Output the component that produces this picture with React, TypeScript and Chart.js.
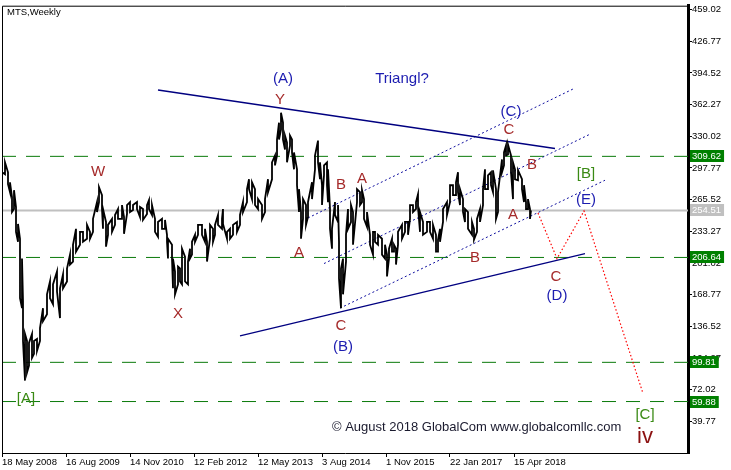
import React, { useEffect, useRef } from "react";
import { Chart, registerables } from "chart.js";

Chart.register(...registerables);

// ---- data ----
const weekIndex = [0,3,6,8,10,12,14,16,18,20,21,23,25,27,30,32,35,38,41,45,48,51,55,58,61,65,68,71,74,78,81,85,88,91,95,97,100,101,104,106,110,113,116,120,122,125,128,131,135,138,141,145,147,150,153,156,160,163,165,166,170,171,173,176,178,180,183,186,188,190,193,196,200,203,205,208,211,213,216,220,221,225,228,231,235,238,241,245,247,250,253,256,260,263,266,270,273,275,277,279,281,283,285,288,290,292,295,297,299,301,304,306,310,313,316,318,320,322,325,326,328,330,333,336,337,339,341,344,346,349,351,355,358,360,362,365,368,371,373,376,380,383,385,387,390,392,394,396,400,403,406,408,411,414,416,418,421,425,428,431,434,436,438,441,445,448,451,454,456,458,461,463,466,470,472,475,478,481,483,486,489,491,494,496,500,502,504,506,509,511,513,516,520,522,524,526,528];
const highs = [306.5,303.5,293.4,283.2,268.1,275.2,258.0,240.8,225.7,205.5,162.0,128.7,121.6,119.6,128.7,121.6,123.6,134.7,155.0,169.1,182.2,179.2,192.3,175.2,189.3,195.4,209.5,219.6,235.8,232.7,232.7,239.8,232.7,245.9,263.0,278.2,270.1,256.0,242.8,239.8,245.9,249.9,256.0,260.0,247.9,260.0,263.0,260.0,263.0,258.0,256.0,260.0,265.1,260.0,245.9,242.8,245.9,244.9,229.7,225.7,219.6,205.5,192.3,197.4,195.4,215.6,207.5,202.4,215.6,222.6,229.7,239.8,239.8,235.8,222.6,239.8,235.8,239.8,249.9,245.9,256.0,232.7,235.8,239.8,242.8,249.9,263.0,276.2,286.3,283.2,276.2,266.1,260.0,266.1,286.3,303.5,310.5,326.7,343.9,354.0,343.9,330.7,323.7,330.7,326.7,313.6,296.4,276.2,252.9,266.1,260.0,263.0,283.2,310.5,325.7,303.5,280.2,300.4,303.5,296.4,256.0,235.8,263.0,260.0,222.6,195.4,205.5,229.7,256.0,260.0,252.9,276.2,273.1,275.2,266.1,252.9,229.7,232.7,232.7,229.7,225.7,219.6,209.5,215.6,225.7,219.6,215.6,232.7,239.8,242.8,242.8,260.0,260.0,263.0,271.1,252.9,242.8,242.8,242.8,239.8,229.7,224.7,235.8,256.0,263.0,280.2,280.2,283.2,293.4,276.2,266.1,256.0,252.9,242.8,235.8,245.9,256.0,276.2,296.4,290.3,293.4,295.4,276.2,273.1,306.5,313.6,320.6,321.6,310.5,303.5,296.4,295.4,286.3,280.2,263.0,266.1,256.0];
const lows = [293.4,291.3,281.2,273.1,252.9,256.0,232.7,222.6,165.1,155.0,121.6,81.2,89.3,96.4,104.4,108.5,111.5,121.6,141.8,148.9,165.1,159.0,172.1,144.9,175.2,182.2,199.4,202.4,212.5,219.6,222.6,225.7,225.7,232.7,252.9,263.0,256.0,235.8,217.6,229.7,232.7,239.8,245.9,245.9,230.7,250.9,252.9,255.0,256.0,247.9,244.9,250.9,256.0,249.9,232.7,227.7,235.8,235.8,222.6,205.5,205.5,175.2,169.1,179.2,182.2,179.2,182.2,179.2,205.5,209.5,222.6,229.7,229.7,222.6,202.4,225.7,222.6,229.7,239.8,235.8,240.8,225.7,225.7,229.7,232.7,239.8,252.9,263.0,276.2,266.1,260.0,256.0,245.9,252.9,273.1,286.3,300.4,310.5,326.7,336.8,326.7,316.6,303.5,320.6,313.6,296.4,280.2,252.9,225.7,245.9,239.8,247.9,266.1,296.4,303.5,286.3,260.0,290.3,280.2,263.0,235.8,215.6,249.9,242.8,185.3,155.0,169.1,202.4,235.8,242.8,219.6,263.0,260.0,263.0,245.9,237.8,219.6,209.5,222.6,219.6,209.5,205.5,187.3,205.5,212.5,212.5,199.4,219.6,225.7,232.7,229.7,245.9,252.9,256.0,258.0,232.7,229.7,232.7,232.7,225.7,212.5,212.5,222.6,242.8,249.9,263.0,270.1,270.1,273.1,260.0,252.9,242.8,235.8,229.7,224.7,232.7,242.8,260.0,276.2,276.2,280.2,273.1,245.9,252.9,293.4,300.4,310.5,311.5,293.4,266.1,286.3,285.3,276.2,263.0,256.0,256.0,245.9];
const lastWeek = 529;
const lastClose = 254.51;

const xTickIndex = [0, 64, 128, 192, 256, 320, 384, 448, 512];
const xTickLabels = ["18 May 2008","16 Aug 2009","14 Nov 2010","12 Feb 2012","12 May 2013","3 Aug 2014","1 Nov 2015","22 Jan 2017","15 Apr 2018"];
const yTickValues = [459.02,426.77,394.52,362.27,330.02,297.77,265.52,233.27,201.02,168.77,136.52,104.27,72.02,39.77];
const xRange = [0, 686];
const yRange = [7.46, 463.06];

const levelValues = [309.62, 254.51, 206.64, 99.81, 59.88];
const levelKinds = ["level", "price", "level", "level", "level"];

// trend lines: [week, price] endpoints
const upperTriangleX = [156, 553];
const upperTriangleY = [377.2, 317.6];
const lowerTriangleX = [238, 583];
const lowerTriangleY = [126.7, 210.5];
const channel1X = [306, 571];
const channel1Y = [246.9, 378.2];
const channel2X = [322, 587];
const channel2Y = [200.4, 331.7];
const channel3X = [338, 603];
const channel3Y = [155.0, 285.3];
const forecastX = [536, 555, 582, 641];
const forecastY = [251.9, 205.5, 253.9, 68.1];

const labelTexts = ["W","X","Y","(A)","Triangl?","A","B","A","C","(B)","B","(C)","C","B","A","[B]","(E)","C","(D)","[A]","[C]","iv"];
const labelX = [96,176,278,281,400,297,339,360,339,341,473,509,507,530,511,584,584,554,555,24,643,643];
const labelY = [293.4,148.9,367.1,388.3,388.3,211.5,280.2,286.3,136.8,115.6,206.5,355.0,336.8,301.4,249.9,291.3,265.1,187.3,167.1,63.0,45.9,23.6];
const labelGroup = ["minor","minor","minor","inter","inter","minor","minor","minor","minor","inter","minor","inter","minor","minor","minor","primary","inter","minor","inter","primary","primary","cycle"];
const copyrightText = "© August 2018 GlobalCom www.globalcomllc.com";
const copyrightAt = [330, 33.7];
const titleText = "MTS,Weekly";

// ---- styles ----
const FONT = "'Liberation Sans', Arial, sans-serif";
const TICK_SIZE = 9.5;
const groupStyle: Record<string, { color: string; size: number }> = {
  minor: { color: "#a52a2a", size: 15 },
  inter: { color: "#1c1cb0", size: 15 },
  primary: { color: "#3a8a14", size: 15 },
  cycle: { color: "#8b1010", size: 22 },
};

function pts(xs: number[], ys: number[]) {
  return xs.map((x, i) => ({ x, y: ys[i] }));
}

function buildPrice() {
  const out: { x: number; y: number }[] = [];
  weekIndex.forEach((w, i) => {
    if (i % 2 === 0) {
      out.push({ x: w, y: highs[i] }, { x: w, y: lows[i] });
    } else {
      out.push({ x: w, y: lows[i] }, { x: w, y: highs[i] });
    }
  });
  out.push({ x: lastWeek, y: lastClose });
  return out;
}

const overlay = {
  id: "overlay",
  beforeDraw(chart: any) {
    const { ctx } = chart;
    ctx.save();
    ctx.fillStyle = "#fff";
    ctx.fillRect(0, 0, chart.width, chart.height);
    ctx.restore();
  },
  afterDatasetsDraw(chart: any) {
    const { ctx, scales } = chart;
    const xs = scales.x, ys = scales.y;
    ctx.save();
    ctx.textAlign = "center";
    ctx.textBaseline = "middle";
    labelTexts.forEach((t, i) => {
      const st = groupStyle[labelGroup[i]];
      ctx.font = `${st.size}px ${FONT}`;
      ctx.fillStyle = st.color;
      ctx.fillText(t, xs.getPixelForValue(labelX[i]), ys.getPixelForValue(labelY[i]));
    });
    ctx.font = `13px ${FONT}`;
    ctx.fillStyle = "#1a1a2e";
    ctx.textAlign = "left";
    ctx.fillText(copyrightText, xs.getPixelForValue(copyrightAt[0]), ys.getPixelForValue(copyrightAt[1]));
    ctx.restore();
  },
  afterDraw(chart: any) {
    const { ctx, chartArea, scales } = chart;
    const ys = scales.y;
    ctx.save();
    ctx.strokeStyle = "#000";
    ctx.lineWidth = 1;
    ctx.beginPath();
    ctx.moveTo(chartArea.left + 0.5, chartArea.bottom);
    ctx.lineTo(chartArea.left + 0.5, chartArea.top + 0.5);
    ctx.lineTo(chartArea.right, chartArea.top + 0.5);
    ctx.stroke();
    ctx.font = `${TICK_SIZE}px ${FONT}`;
    ctx.fillStyle = "#000";
    ctx.textAlign = "left";
    ctx.textBaseline = "middle";
    ctx.fillText(titleText, chartArea.left + 5, chartArea.top + 7);
    levelValues.forEach((v, i) => {
      const py = Math.round(ys.getPixelForValue(v));
      const txt = v.toFixed(2);
      const w = ctx.measureText(txt).width;
      ctx.fillStyle = levelKinds[i] === "price" ? "#c0c0c0" : "#008000";
      ctx.fillRect(chartArea.right + 2, py - 6, w + 5, 12);
      ctx.fillStyle = "#fff";
      ctx.fillText(txt, chartArea.right + 4, py + 0.5);
    });
    ctx.restore();
  },
};

export default function App() {
  const ref = useRef<HTMLCanvasElement>(null);
  useEffect(() => {
    document.body.style.margin = "0";
    const canvas = ref.current!;
    const levelSets = levelValues.map((v, i) => ({
      data: [{ x: xRange[0], y: v }, { x: xRange[1], y: v }],
      borderColor: levelKinds[i] === "price" ? "#c0c0c0" : "#0a7a0a",
      borderWidth: levelKinds[i] === "price" ? 2 : 1,
      borderDash: levelKinds[i] === "price" ? [] : [14, 10],
      order: 5,
    }));
    const dotted = (xs: number[], ys: number[]) => ({
      data: pts(xs, ys),
      borderColor: "#1010a0",
      borderWidth: 1,
      borderDash: [2, 2.5],
      order: 3,
    });
    const chart = new Chart(canvas, {
      type: "line",
      data: {
        datasets: [
          { data: buildPrice(), borderColor: "#000", borderWidth: 1.8, order: 1 },
          { data: pts(upperTriangleX, upperTriangleY), borderColor: "#000080", borderWidth: 1.3, order: 2 },
          { data: pts(lowerTriangleX, lowerTriangleY), borderColor: "#000080", borderWidth: 1.3, order: 2 },
          dotted(channel1X, channel1Y),
          dotted(channel2X, channel2Y),
          dotted(channel3X, channel3Y),
          { data: pts(forecastX, forecastY), borderColor: "#ff0000", borderWidth: 1.2, borderDash: [1.5, 2.2], order: 2 },
          ...levelSets,
        ] as any,
      },
      options: {
        animation: false,
        responsive: false,
        devicePixelRatio: 1,
        events: [],
        layout: { padding: { left: 2, top: 2, right: 0, bottom: 0 } },
        plugins: { legend: { display: false }, tooltip: { enabled: false }, title: { display: false } },
        elements: { point: { radius: 0 }, line: { tension: 0 } },
        scales: {
          x: {
            type: "linear",
            position: "bottom",
            min: xRange[0],
            max: xRange[1],
            afterBuildTicks: (axis: any) => { axis.ticks = xTickIndex.map((v) => ({ value: v })); },
            afterFit: (axis: any) => { axis.height = 17; },
            ticks: {
              autoSkip: false, maxRotation: 0, minRotation: 0, align: "start", padding: 0,
              color: "#000", font: { family: FONT, size: TICK_SIZE },
              callback: (_v: any, i: number) => xTickLabels[i],
            },
            grid: { drawOnChartArea: false, drawTicks: true, tickLength: 4, color: "#000" },
            border: { display: true, color: "#000", width: 1 },
          },
          y: {
            type: "linear",
            position: "right",
            min: yRange[0],
            max: yRange[1],
            afterBuildTicks: (axis: any) => { axis.ticks = yTickValues.map((v) => ({ value: v })); },
            afterFit: (axis: any) => { axis.width = 43; },
            ticks: {
              autoSkip: false, padding: 0, color: "#000", font: { family: FONT, size: TICK_SIZE },
              callback: (v: any) => Number(v).toFixed(2),
            },
            grid: { drawOnChartArea: false, drawTicks: true, tickLength: 4, color: "#000" },
            border: { display: true, color: "#000", width: 3 },
          },
        },
      } as any,
      plugins: [overlay],
    });
    return () => chart.destroy();
  }, []);
  return (
    <div style={{ width: 731, height: 470 }}>
      <canvas ref={ref} width={731} height={470} style={{ display: "block" }} />
    </div>
  );
}
